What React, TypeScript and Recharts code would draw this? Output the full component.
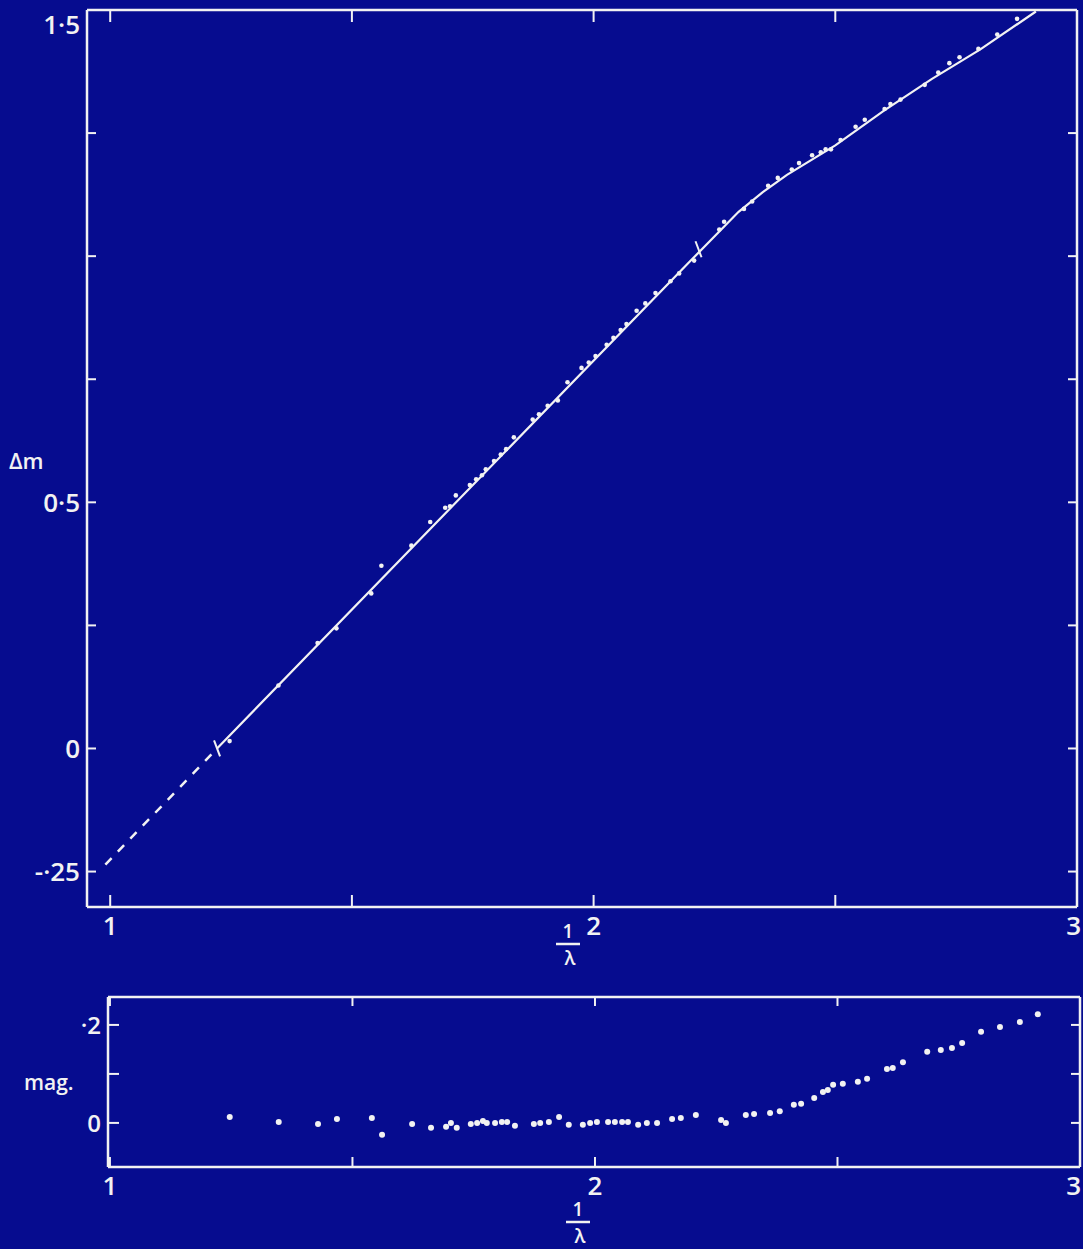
import React from "react";
import { ScatterChart, Scatter, XAxis, YAxis } from "recharts";

const BG = "#060c8f";
const INK = "#f2f2f2";
const FONT = "'Open Sans', sans-serif";

const invLambda = [
  1.247, 1.348, 1.429, 1.468, 1.54, 1.561, 1.623, 1.662, 1.693, 1.703,
  1.715, 1.744, 1.757, 1.769, 1.777, 1.794, 1.808, 1.819, 1.835, 1.874,
  1.887, 1.905, 1.926, 1.946, 1.975, 1.99, 2.004, 2.027, 2.041, 2.056,
  2.068, 2.089, 2.107, 2.128, 2.159, 2.177, 2.208, 2.26, 2.27, 2.311,
  2.328, 2.361, 2.381, 2.41, 2.425, 2.452, 2.47, 2.48, 2.491, 2.511,
  2.542, 2.561, 2.602, 2.614, 2.635, 2.685, 2.713, 2.736, 2.757, 2.796,
  2.835, 2.876, 2.913,
];

// delta m in the upper panel
const deltaM = [
  0.015, 0.128, 0.214, 0.244, 0.315, 0.371, 0.412, 0.46, 0.489, 0.492,
  0.514, 0.535, 0.547, 0.555, 0.567, 0.584, 0.597, 0.608, 0.632, 0.668,
  0.679, 0.696, 0.707, 0.744, 0.773, 0.784, 0.797, 0.82, 0.834, 0.85,
  0.862, 0.889, 0.904, 0.925, 0.949, 0.965, 0.991, 1.054, 1.07, 1.096,
  1.111, 1.143, 1.159, 1.176, 1.189, 1.205, 1.211, 1.217, 1.217, 1.236,
  1.263, 1.277, 1.299, 1.309, 1.318, 1.348, 1.373, 1.392, 1.404, 1.421,
  1.45, 1.482, 1.504,
];

// departure from the straight line (lower panel, mag.)
const residual = [
  0.012, 0.002, -0.002, 0.008, 0.01, -0.024, -0.002, -0.01, -0.008, 0,
  -0.01, -0.002, 0, 0.004, 0, 0, 0.002, 0.002, -0.006, -0.002,
  0, 0.002, 0.012, -0.004, -0.004, 0, 0.002, 0.002, 0.002, 0.002,
  0.002, -0.004, 0, 0, 0.008, 0.01, 0.016, 0.006, 0, 0.016,
  0.018, 0.02, 0.024, 0.037, 0.039, 0.051, 0.063, 0.067, 0.078, 0.08,
  0.084, 0.09, 0.11, 0.112, 0.124, 0.145, 0.149, 0.153, 0.163, 0.186,
  0.196, 0.206, 0.222,
];

// drawn curve
const curveX = [1.221, 2.2, 2.3, 2.35, 2.4, 2.5, 2.6, 2.7, 2.8, 2.915];
const curveY = [0, 0.99, 1.09, 1.13, 1.165, 1.225, 1.295, 1.36, 1.42, 1.497];
// dashed extrapolation
const extX = [0.99, 1.221];
const extY = [-0.236, 0];
// small cross marks on the curve
const markX = [1.221, 2.217];
const markY = [0, 1.014];

const mainXTicks = [1, 1.5, 2, 2.5, 3];
const mainXLabels: Record<number, string> = { 1: "1", 2: "2", 3: "3" };
const mainYTicks = [-0.25, 0, 0.25, 0.5, 0.75, 1, 1.25, 1.5];
const mainYLabels: Record<number, string> = { 1.5: "1·5", 0.5: "0·5", 0: "0", [-0.25]: "-·25" };
const lowXTicks = [1, 1.5, 2, 2.5, 3];
const lowYTicks = [0, 0.1, 0.2];
const lowYLabels: Record<number, string> = { 0.2: "·2", 0: "0" };

const pts = (xs: number[], ys: number[]) => xs.map((x, i) => ({ x, y: ys[i] }));
const mainPts = pts(invLambda, deltaM);
const lowPts = pts(invLambda, residual);

const Nothing = () => <g />;
const Dot = (r: number) => (p: any) => <circle cx={p.cx} cy={p.cy} r={r} fill={INK} />;
const Mark = (p: any) => (
  <line x1={p.cx - 3} y1={p.cy - 8} x2={p.cx + 3} y2={p.cy + 8} stroke={INK} strokeWidth={2} />
);

const txt = { fill: INK, fontFamily: FONT, fontWeight: 600 } as const;

function bottomTick(labels: Record<number, string>, size: number, len: number, edge: number) {
  return (p: any) => {
    const v = p.payload.value;
    const atEdge = v === edge;
    return (
      <g>
        {!atEdge && <line x1={p.x} x2={p.x} y1={p.y} y2={p.y - len} stroke={INK} strokeWidth={2} />}
        {labels[v] && (
          <text x={atEdge ? Math.min(p.x + 5, 1081) : p.x} y={p.y + size + 2}
            textAnchor={atEdge ? "end" : "middle"} fontSize={size} {...txt}>
            {labels[v]}
          </text>
        )}
      </g>
    );
  };
}
function topTick(len: number, edge: number) {
  return (p: any) =>
    p.payload.value === edge ? <g /> : (
      <line x1={p.x} x2={p.x} y1={p.y} y2={p.y + len} stroke={INK} strokeWidth={2} />
    );
}
function leftTick(labels: Record<number, string>, size: number, len: number, minY: number) {
  return (p: any) => {
    const v = p.payload.value;
    return (
      <g>
        <line x1={p.x} x2={p.x + len} y1={p.y} y2={p.y} stroke={INK} strokeWidth={2} />
        {labels[v] && (
          <text x={p.x - 7} y={Math.max(p.y, minY) + size * 0.36} textAnchor="end" fontSize={size} {...txt}>
            {labels[v]}
          </text>
        )}
      </g>
    );
  };
}
function rightTick(len: number) {
  return (p: any) => <line x1={p.x} x2={p.x - len} y1={p.y} y2={p.y} stroke={INK} strokeWidth={2} />;
}

const axisLine = { stroke: INK, strokeWidth: 2.5 };

function InvLambda({ x, y }: { x: number; y: number }) {
  return (
    <g>
      <text x={x} y={y} textAnchor="middle" fontSize={19} {...txt}>1</text>
      <line x1={x - 12} x2={x + 12} y1={y + 6} y2={y + 6} stroke={INK} strokeWidth={2.5} />
      <text x={x + 2} y={y + 27} textAnchor="middle" fontSize={19} {...txt}>λ</text>
    </g>
  );
}

export default function App() {
  return (
    <div style={{ position: "fixed", inset: 0, background: BG, overflow: "hidden" }}>
      <div style={{ position: "absolute", left: 0, top: 0 }}>
        <ScatterChart width={1083} height={960} margin={{ top: 9, right: 5, bottom: 0, left: 0 }}>
          <XAxis type="number" dataKey="x" domain={[0.952, 3]} ticks={mainXTicks} interval={0}
            height={53} tickSize={0} tickMargin={0} tickLine={false} axisLine={axisLine}
            tick={bottomTick(mainXLabels, 26, 12, 3)} allowDataOverflow />
          <XAxis xAxisId="top" orientation="top" type="number" dataKey="x" domain={[0.952, 3]} ticks={mainXTicks}
            interval={0} height={1} tickSize={0} tickMargin={0} tickLine={false} axisLine={axisLine}
            tick={topTick(12, 3)} allowDataOverflow />
          <YAxis type="number" dataKey="y" domain={[-0.322, 1.5]} ticks={mainYTicks} interval={0}
            width={87} tickSize={0} tickMargin={0} tickLine={false} axisLine={axisLine}
            tick={leftTick(mainYLabels, 26, 9, 25)} allowDataOverflow />
          <YAxis yAxisId="right" orientation="right" type="number" dataKey="y" domain={[-0.322, 1.5]} ticks={mainYTicks}
            interval={0} width={1} tickSize={0} tickMargin={0} tickLine={false} axisLine={axisLine}
            tick={rightTick(9)} allowDataOverflow />
          <Scatter xAxisId="top" yAxisId="right" data={mainPts} shape={Nothing} isAnimationActive={false} />
          <Scatter data={pts(extX, extY)} shape={Nothing} isAnimationActive={false}
            line={{ stroke: INK, strokeWidth: 2.5, strokeDasharray: "9 9" }} />
          <Scatter data={pts(curveX, curveY)} shape={Nothing} isAnimationActive={false}
            line={{ stroke: INK, strokeWidth: 2.2 }} />
          <Scatter data={mainPts} shape={Dot(2.3)} isAnimationActive={false} />
          <Scatter data={pts(markX, markY)} shape={Mark} isAnimationActive={false} />
        </ScatterChart>
        <svg style={{ position: "absolute", left: 0, top: 0 }} width={1083} height={980}>
          <text x={9} y={469} fontSize={22} {...txt}>Δm</text>
          <InvLambda x={568} y={938} />
        </svg>
      </div>
      <div style={{ position: "absolute", left: 0, top: 970 }}>
        <ScatterChart width={1083} height={279} margin={{ top: 26, right: 2, bottom: 0, left: 0 }}>
          <XAxis type="number" dataKey="x" domain={[0.996, 3]} ticks={lowXTicks} interval={0}
            height={82} tickSize={0} tickMargin={0} tickLine={false} axisLine={axisLine}
            tick={bottomTick(mainXLabels, 26, 10, 3)} allowDataOverflow />
          <XAxis xAxisId="top" orientation="top" type="number" dataKey="x" domain={[0.996, 3]} ticks={lowXTicks}
            interval={0} height={1} tickSize={0} tickMargin={0} tickLine={false} axisLine={axisLine}
            tick={topTick(9, 3)} allowDataOverflow />
          <YAxis type="number" dataKey="y" domain={[-0.09, 0.257]} ticks={lowYTicks} interval={0}
            width={108} tickSize={0} tickMargin={0} tickLine={false} axisLine={axisLine}
            tick={leftTick(lowYLabels, 24, 11, 0)} allowDataOverflow />
          <YAxis yAxisId="right" orientation="right" type="number" dataKey="y" domain={[-0.09, 0.257]} ticks={lowYTicks}
            interval={0} width={1} tickSize={0} tickMargin={0} tickLine={false} axisLine={axisLine}
            tick={rightTick(9)} allowDataOverflow />
          <Scatter xAxisId="top" yAxisId="right" data={lowPts} shape={Nothing} isAnimationActive={false} />
          <Scatter data={lowPts} shape={Dot(3)} isAnimationActive={false} />
        </ScatterChart>
        <svg style={{ position: "absolute", left: 0, top: 0 }} width={1083} height={279}>
          <text x={24} y={120} fontSize={21} {...txt}>mag.</text>
          <InvLambda x={578} y={246} />
        </svg>
      </div>
    </div>
  );
}
